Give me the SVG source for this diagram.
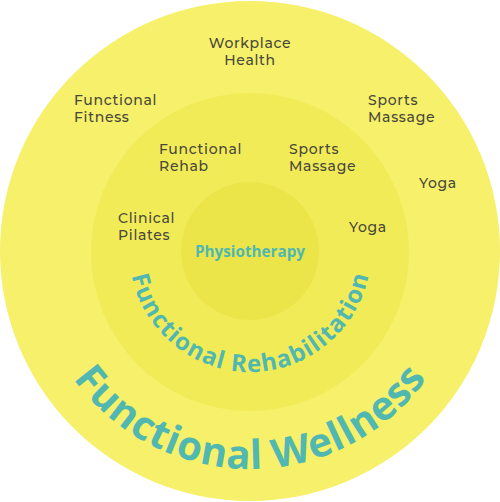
<svg xmlns="http://www.w3.org/2000/svg" width="500" height="502" viewBox="0 0 500 502">
  <style>
    .lbl { font-family: "Montserrat", "Open Sans", "Noto Sans", sans-serif; font-size: 14px; font-weight: 500; fill: #48483a; letter-spacing: 0.7px; }
    .mid { text-anchor: middle; }
    .teal { font-family: "Open Sans", "Noto Sans", sans-serif; font-weight: 700; fill: #50b8b0; }
  </style>
  <defs>
    <path id="arcFR" d="M 129,251 A 121 121 0 0 0 371,251"/>
    <path id="arcFW" d="M 32,251 A 218 218 0 0 0 468,251"/>
  </defs>
  <rect width="500" height="502" fill="#ffffff"/>
  <g id="outer-ring">
    <circle cx="250" cy="251" r="250" fill="#f6f06a"/>
  </g>
  <g id="middle-ring">
    <circle cx="250" cy="252" r="159" fill="#f2eb58"/>
  </g>
  <g id="inner-ring">
    <circle cx="250" cy="251" r="69" fill="#ebe54a"/>
  </g>
  <g id="connectors"/>
  <g id="physiotherapy">
    <text class="teal" x="250" y="257" font-size="16" text-anchor="middle" textLength="110" lengthAdjust="spacingAndGlyphs">Physiotherapy</text>
  </g>
  <g id="functional-rehabilitation">
    <text class="teal" font-size="24"><textPath href="#arcFR" startOffset="50%" text-anchor="middle" textLength="330" lengthAdjust="spacing">Functional Rehabilitation</textPath></text>
  </g>
  <g id="functional-wellness">
    <text class="teal" font-size="40"><textPath href="#arcFW" startOffset="50%" text-anchor="middle" textLength="412" lengthAdjust="spacing">Functional Wellness</textPath></text>
  </g>
  <g id="workplace-health">
    <text class="lbl mid" x="250" y="48">Workplace</text>
    <text class="lbl mid" x="250" y="65">Health</text>
  </g>
  <g id="functional-fitness">
    <text class="lbl" x="74" y="105">Functional</text>
    <text class="lbl" x="74" y="122">Fitness</text>
  </g>
  <g id="sports-massage-outer">
    <text class="lbl" x="368" y="105">Sports</text>
    <text class="lbl" x="368" y="122">Massage</text>
  </g>
  <g id="yoga-outer">
    <text class="lbl" x="419" y="188">Yoga</text>
  </g>
  <g id="functional-rehab">
    <text class="lbl" x="159" y="154">Functional</text>
    <text class="lbl" x="159" y="171">Rehab</text>
  </g>
  <g id="sports-massage-inner">
    <text class="lbl" x="289" y="154">Sports</text>
    <text class="lbl" x="289" y="171">Massage</text>
  </g>
  <g id="clinical-pilates">
    <text class="lbl" x="118" y="223">Clinical</text>
    <text class="lbl" x="118" y="240">Pilates</text>
  </g>
  <g id="yoga-inner">
    <text class="lbl" x="349" y="232">Yoga</text>
  </g>
</svg>
